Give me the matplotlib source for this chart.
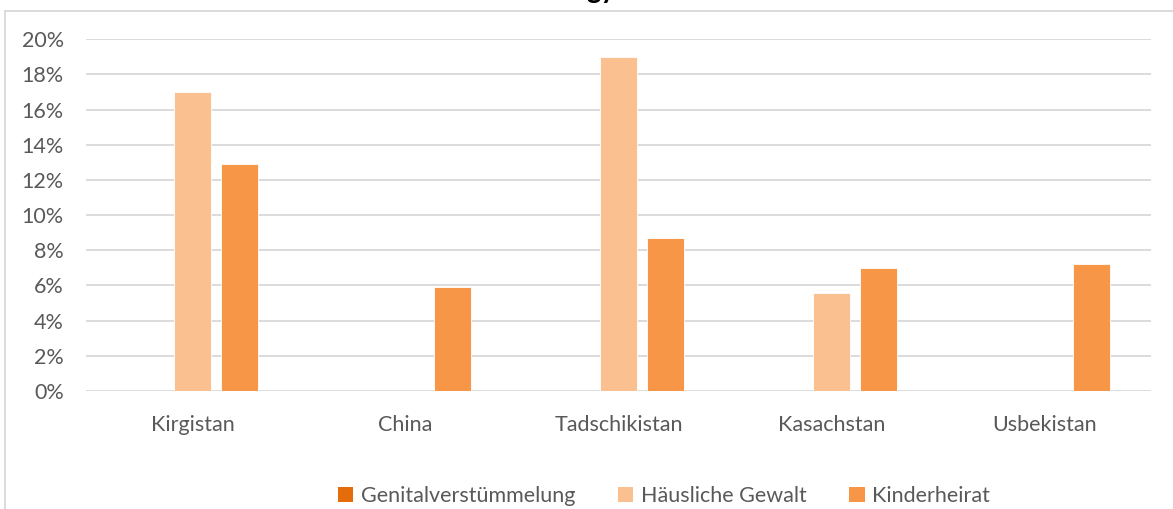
import numpy as np
import matplotlib.pyplot as plt
from matplotlib.patches import Patch
from matplotlib.ticker import PercentFormatter

plt.rcParams['font.family'] = ['Lato', 'DejaVu Sans']

# Daten (Anteile in %)
laender = ["Kirgistan", "China", "Tadschikistan", "Kasachstan", "Usbekistan"]
genital = [0, 0, 0, 0, 0]
haeuslich = [17.0, 0, 19.0, 5.6, 0]
kinderheirat = [12.9, 5.9, 8.7, 7.0, 7.2]
serien = ["Genitalverstümmelung", "Häusliche Gewalt", "Kinderheirat"]
farben = ["#E46C0A", "#FAC090", "#F79646"]
grau = "#595959"

fig = plt.figure(figsize=(11.73, 5.09), dpi=100)
ax = fig.add_axes([86/1173, 1 - 391/509, (1151-86)/1173, (391-39.3)/509])

x = np.arange(len(laender))
w = 0.176
off = 0.221
for i, (vals, col) in enumerate(zip([genital, haeuslich, kinderheirat], farben)):
    v = np.array(vals, dtype=float)
    ax.bar(x + (i - 1) * off, v, w, color=col, edgecolor="white", linewidth=0.6, zorder=3)

ax.set_xlim(-0.5, len(laender) - 0.5)
ax.set_ylim(0, 20)
ax.set_yticks(np.arange(0, 21, 2))
ax.yaxis.set_major_formatter(PercentFormatter(decimals=0))
ax.set_xticks(x)
ax.set_xticklabels(laender)
ax.grid(axis="y", color="#D9D9D9", linewidth=1.3, zorder=0)
for s in ax.spines.values():
    s.set_visible(False)
ax.tick_params(axis="both", length=0, labelsize=15.5, colors=grau)
ax.tick_params(axis="y", pad=16)
ax.tick_params(axis="x", pad=17)

# Rahmen des Diagrammbereichs (rechts/unten ausserhalb des Bildes)
fig.add_artist(plt.Line2D([5/1173, 5/1173], [0, 1 - 10.5/509], color="#D9D9D9", linewidth=1.3))
fig.add_artist(plt.Line2D([5/1173, 1], [1 - 10.5/509, 1 - 10.5/509], color="#D9D9D9", linewidth=1.3))

# abgeschnittener Titel oben
fig.text(601/1173, 1 + 2/509, "gy", ha="center", va="baseline", fontsize=20,
         fontweight="bold", color="black")

handles = [Patch(facecolor=c, edgecolor="none") for c in farben]
fig.legend(handles, serien, loc="center", bbox_to_anchor=(664/1173, 1 - 496/509), ncol=3,
           frameon=False, fontsize=15.5, labelcolor=grau, handlelength=0.7, handleheight=0.7,
           handletextpad=0.35, columnspacing=2.0)

fig.savefig("out.png", dpi=100)
